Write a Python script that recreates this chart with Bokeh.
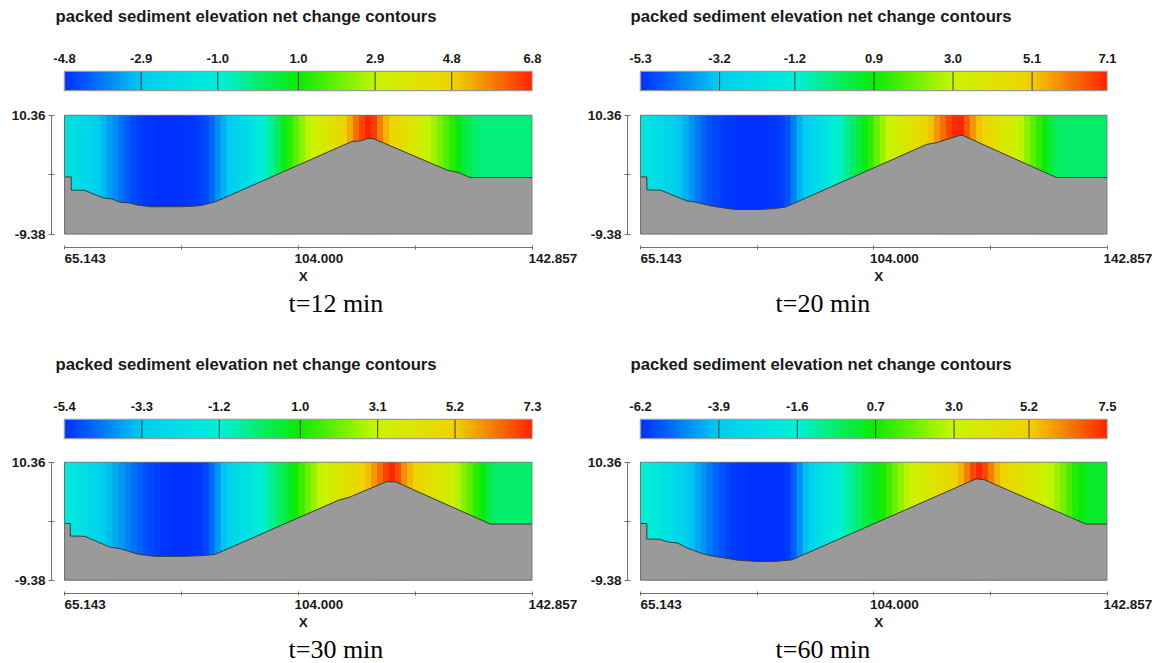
import numpy as np
from bokeh.plotting import figure
from bokeh.models import Range1d, FixedTicker, LinearColorMapper, PrintfTickFormatter, Title
from bokeh.layouts import column, row
from bokeh.embed import file_html
from bokeh.resources import INLINE

# ---------------- data ----------------
X_MIN, X_MAX = 65.143, 142.857
Y_MIN, Y_MAX = -9.38, 10.36

TITLE = "packed sediment elevation net change contours"
captions = ["t=12 min", "t=20 min", "t=30 min", "t=60 min"]

x_ticks = [65.143, 84.5715, 104.000, 123.4285, 142.857]
x_tick_labels = ["65.143", "", "104.000", "", "142.857"]
y_ticks = [-9.38, 0.49, 10.36]
y_tick_labels = ["-9.38", "", "10.36"]

cbar_ticks_12 = [-4.8, -2.9, -1.0, 1.0, 2.9, 4.8, 6.8]
cbar_ticks_20 = [-5.3, -3.2, -1.2, 0.9, 3.0, 5.1, 7.1]
cbar_ticks_30 = [-5.4, -3.3, -1.2, 1.0, 3.1, 5.2, 7.3]
cbar_ticks_60 = [-6.2, -3.9, -1.6, 0.7, 3.0, 5.2, 7.5]

# net change read along x (78 equal columns spanning 65.143 .. 142.857)
change_12 = [-1.7, -1.9, -2.1, -2.3, -2.5, -2.8, -3.1, -3.4, -3.7, -4.0,
             -4.25, -4.45, -4.6, -4.7, -4.75, -4.8, -4.8, -4.8, -4.8, -4.8,
             -4.75, -4.7, -4.6, -4.45, -4.1, -3.6, -3.2, -2.85, -2.55, -2.3,
             -2.0, -1.6, -1.2, -0.75, -0.3, 0.2, 0.75, 1.3, 1.8, 2.3,
             2.8, 3.1, 3.4, 3.7, 4.0, 4.35, 4.75, 5.3, 5.9, 6.4,
             6.8, 6.5, 5.8, 5.2, 4.8, 4.5, 4.2, 3.9, 3.6, 3.3,
             2.9, 2.5, 2.1, 1.7, 1.3, 0.9, 0.5, 0.2, 0.0, -0.1,
             -0.1, -0.1, -0.1, -0.1, -0.1, -0.1, -0.1, -0.1]
change_20 = [-1.85, -2.05, -2.25, -2.5, -2.75, -3.0, -3.3, -3.6, -3.95, -4.3,
             -4.6, -4.85, -5.0, -5.1, -5.2, -5.25, -5.3, -5.3, -5.3, -5.3,
             -5.3, -5.25, -5.2, -5.1, -4.8, -4.2, -3.6, -3.1, -2.75, -2.45,
             -2.1, -1.7, -1.3, -0.9, -0.5, -0.1, 0.3, 0.75, 1.3, 1.9,
             2.5, 3.0, 3.3, 3.6, 3.9, 4.2, 4.5, 4.8, 5.2, 5.7,
             6.2, 6.7, 7.0, 7.05, 6.4, 5.7, 5.2, 4.9, 4.55, 4.2,
             3.85, 3.5, 3.2, 2.8, 2.3, 1.8, 1.3, 0.8, 0.3, 0.0,
             -0.1, -0.1, -0.1, -0.1, -0.1, -0.1, -0.1, -0.1]
change_30 = [-1.6, -1.8, -2.0, -2.3, -2.6, -2.9, -3.2, -3.5, -3.75, -4.0,
             -4.25, -4.5, -4.75, -4.95, -5.1, -5.2, -5.3, -5.35, -5.4, -5.4,
             -5.4, -5.35, -5.3, -5.1, -4.6, -4.0, -3.4, -2.9, -2.6, -2.3,
             -2.0, -1.6, -1.25, -0.9, -0.5, -0.15, 0.25, 0.6, 1.0, 1.5,
             2.0, 2.5, 2.95, 3.3, 3.6, 3.9, 4.2, 4.5, 4.8, 5.05,
             5.4, 5.9, 6.4, 6.9, 7.25, 6.8, 6.0, 5.5, 5.1, 4.8,
             4.5, 4.2, 3.9, 3.6, 3.3, 2.8, 2.3, 1.8, 1.3, 0.85,
             0.35, 0.0, -0.1, -0.1, -0.1, -0.1, -0.1, -0.1]
change_60 = [-1.6, -1.85, -2.1, -2.4, -2.7, -3.0, -3.35, -3.7, -4.05, -4.4,
             -4.75, -5.1, -5.4, -5.65, -5.85, -6.0, -6.05, -6.1, -6.15, -6.2,
             -6.2, -6.2, -6.2, -6.15, -6.0, -5.5, -4.8, -4.1, -3.5, -3.0,
             -2.6, -2.25, -1.9, -1.55, -1.2, -0.85, -0.5, -0.15, 0.15, 0.45,
             0.8, 1.3, 1.8, 2.3, 2.75, 3.1, 3.4, 3.7, 4.0, 4.3,
             4.55, 4.8, 5.1, 5.6, 6.3, 7.0, 7.4, 7.0, 6.3, 5.6,
             5.1, 4.8, 4.5, 4.25, 4.0, 3.7, 3.4, 3.1, 2.8, 2.4,
             1.9, 1.4, 0.9, 0.5, 0.3, 0.2, 0.2, 0.2]
for _c in (change_12, change_20, change_30, change_60):
    assert len(_c) == 78, len(_c)

# packed bed profile (x, elevation)
bed_x_12 = [65.143, 66.26, 66.26, 68.4, 71.6, 73.0, 74.4, 75.8, 77.2, 79.5, 84.4, 86.6, 88.0,
            90.3, 112.8, 114.4, 115.6, 116.5, 128.8, 130.7, 132.5, 142.857]
bed_y_12 = [0.1, 0.1, -2.1, -2.1, -3.4, -3.55, -4.1, -4.2, -4.55, -4.85, -4.85, -4.75, -4.6,
            -4.0, 5.95, 6.1, 6.5, 6.45, 1.2, 0.8, 0.0, 0.0]
bed_x_20 = [65.143, 66.2, 66.2, 68.5, 72.9, 74.1, 77.1, 80.8, 85.1, 87.5, 89.3, 112.8, 114.3,
            118.3, 118.9, 134.4, 142.857]
bed_y_20 = [0.1, 0.1, -2.05, -2.1, -3.9, -4.05, -4.75, -5.3, -5.3, -5.15, -4.9, 5.5, 5.75,
            7.0, 6.95, 0.0, 0.0]
bed_x_30 = [65.143, 66.1, 66.1, 68.5, 72.8, 74.4, 75.6, 77.4, 80.2, 85.1, 87.6, 90.1, 110.7,
            112.5, 118.7, 120.2, 135.9, 142.857]
bed_y_30 = [0.1, 0.1, -2.0, -2.05, -3.9, -4.1, -4.5, -5.05, -5.4, -5.4, -5.3, -5.1, 4.0,
            4.5, 7.1, 7.05, 0.0, 0.0]
bed_x_60 = [65.143, 66.2, 66.2, 68.3, 69.8, 71.4, 72.9, 75.3, 77.1, 80.2, 81.4, 84.5, 87.5,
            90.3, 121.0, 122.3, 139.3, 142.857]
bed_y_60 = [0.1, 0.1, -2.5, -2.55, -3.0, -3.2, -4.0, -4.9, -5.35, -5.85, -6.05, -6.25, -6.25,
            -6.0, 7.55, 7.45, 0.0, 0.0]

# ---------------- style ----------------
SANS = "Liberation Sans"
SERIF = "Liberation Serif"
TXT = "#1a1a1a"
NBSP = "\u00a0"

ctrl = [(0, 48, 255), (0, 205, 240), (0, 240, 215), (10, 235, 0),
        (200, 245, 0), (240, 210, 0), (255, 35, 0)]
_t = np.linspace(0, 1, 256)
_p = np.linspace(0, 1, len(ctrl))
_r = np.interp(_t, _p, [c[0] for c in ctrl])
_g = np.interp(_t, _p, [c[1] for c in ctrl])
_b = np.interp(_t, _p, [c[2] for c in ctrl])
PALETTE = ["#%02x%02x%02x" % (int(round(a)), int(round(b)), int(round(c))) for a, b, c in zip(_r, _g, _b)]

W = 578
GAP = 13.0  # px between axis line and data box


def cbar_range(ticks, bl, br):
    bar_px = W - bl - br - GAP
    pad = GAP * (ticks[-1] - ticks[0]) / bar_px
    return Range1d(ticks[0] - pad, ticks[-1] + 0.002)


def make_cbar_labels(ticks, xr, bl, br, title_off):
    # title + colour-bar tick labels (axis below an empty frame)
    p = figure(width=W, height=67, x_range=xr, y_range=Range1d(0, 1),
               min_border_left=bl, min_border_right=br, min_border_top=28, min_border_bottom=20,
               toolbar_location=None, output_backend="svg", title=TITLE,
               x_axis_location="below", y_axis_location=None)
    p.grid.visible = False
    p.outline_line_color = None
    ax = p.xaxis[0]
    ax.ticker = FixedTicker(ticks=ticks)
    ax.formatter = PrintfTickFormatter(format="%.1f")
    ax.major_tick_line_color = None
    ax.minor_tick_line_color = None
    ax.axis_line_color = None
    ax.major_tick_out = 0
    ax.major_tick_in = 0
    ax.major_label_standoff = 6
    ax.major_label_text_font = SANS
    ax.major_label_text_font_style = "bold"
    ax.major_label_text_font_size = "13px"
    ax.major_label_text_color = TXT
    p.title.text_font = SANS
    p.title.text_font_style = "bold"
    p.title.text_font_size = "16.7px"
    p.title.text_color = TXT
    p.title.align = "left"
    p.title.offset = title_off
    p.title.standoff = 6
    return p


def make_cbar_bar(ticks, xr, bl, br, height, btop, bbot):
    p = figure(width=W, height=height, x_range=xr, y_range=Range1d(-0.04, 1.04),
               min_border_left=bl, min_border_right=br, min_border_top=btop, min_border_bottom=bbot,
               toolbar_location=None, output_backend="svg",
               x_axis_location=None, y_axis_location=None)
    mapper = LinearColorMapper(palette=PALETTE, low=ticks[0], high=ticks[-1])
    grad = np.array([np.linspace(ticks[0], ticks[-1], 256)])
    p.image(image=[grad], x=ticks[0], y=0, dw=ticks[-1] - ticks[0], dh=1, color_mapper=mapper)
    inner = ticks[1:-1]
    p.segment(x0=inner, y0=[0] * len(inner), x1=inner, y1=[1] * len(inner),
              line_color="#3a3a3a", line_width=1)
    p.quad(left=[ticks[0]], right=[ticks[-1]], bottom=[0], top=[1], fill_color=None,
           line_color="#9a9a9a", line_width=1.5)
    p.grid.visible = False
    p.outline_line_color = None
    return p


def make_main(bed_x, bed_y, change, ticks, caption, bl, br, height, bbot, cap_off):
    frame_w = W - bl - br
    pad_x = GAP * (X_MAX - X_MIN) / (frame_w - GAP)
    pad_y = 13.5 * (Y_MAX - Y_MIN) / 119.5
    pad_top = 0.6 * (Y_MAX - Y_MIN) / 119.5
    p = figure(width=W, height=height,
               x_range=Range1d(X_MIN - pad_x, X_MAX + 0.05),
               y_range=Range1d(Y_MIN - pad_y, Y_MAX + pad_top),
               min_border_left=bl, min_border_right=br, min_border_top=14, min_border_bottom=bbot,
               toolbar_location=None, output_backend="svg")
    p.grid.visible = False
    p.outline_line_color = None
    mapper = LinearColorMapper(palette=PALETTE, low=ticks[0], high=ticks[-1])
    p.image(image=[np.array([change])], x=X_MIN, y=Y_MIN, dw=X_MAX - X_MIN, dh=Y_MAX - Y_MIN,
            color_mapper=mapper)
    p.patch(list(bed_x) + [X_MAX, X_MIN], list(bed_y) + [Y_MIN, Y_MIN],
            fill_color="#9a9a9a", line_color=None)
    p.line(bed_x, bed_y, line_color="#3c3c3c", line_width=1)
    p.quad(left=[X_MIN], right=[X_MAX], bottom=[Y_MIN], top=[Y_MAX], fill_color=None,
           line_color="#6e6e6e", line_width=1)

    for ax in (p.xaxis[0], p.yaxis[0]):
        ax.axis_line_color = "#707070"
        ax.major_tick_line_color = "#707070"
        ax.minor_tick_line_color = None
        ax.major_label_text_font = SANS
        ax.major_label_text_font_style = "bold"
        ax.major_label_text_font_size = "13.5px"
        ax.major_label_text_color = TXT

    xa = p.xaxis[0]
    xa.bounds = (X_MIN, X_MAX)
    xa.major_tick_in = 2
    xa.major_tick_out = 2
    xa.ticker = FixedTicker(ticks=x_ticks)
    xa.major_label_overrides = {t: (NBSP * 11 + s if s else "") for t, s in zip(x_ticks, x_tick_labels)}
    xa.major_label_standoff = 1
    xa.axis_label = NBSP * 6 + "X"
    xa.axis_label_standoff = 0
    xa.axis_label_text_font = SANS
    xa.axis_label_text_font_style = "bold"
    xa.axis_label_text_font_size = "13.5px"
    xa.axis_label_text_color = TXT

    ya = p.yaxis[0]
    ya.bounds = (Y_MIN, Y_MAX)
    ya.major_tick_in = 3
    ya.major_tick_out = 3
    ya.ticker = FixedTicker(ticks=y_ticks)
    ya.major_label_overrides = {t: s for t, s in zip(y_ticks, y_tick_labels)}
    ya.major_label_standoff = 3
    ya.major_label_orientation = "horizontal"

    p.add_layout(Title(text=caption, align="left", offset=cap_off, text_font=SERIF,
                       text_font_size="26px", text_font_style="normal", text_color="#000000",
                       standoff=0), "below")
    return p


panels = [
    (bed_x_12, bed_y_12, change_12, cbar_ticks_12, captions[0], "L", "top"),
    (bed_x_20, bed_y_20, change_20, cbar_ticks_20, captions[1], "R", "top"),
    (bed_x_30, bed_y_30, change_30, cbar_ticks_30, captions[2], "L", "bot"),
    (bed_x_60, bed_y_60, change_60, cbar_ticks_60, captions[3], "R", "bot"),
]

cols = []
for bx, by, ch, tk, cap, side, rw in panels:
    if side == "L":
        bl, br, toff, co = 51, 46, 4, 237
    else:
        bl, br, toff, co = 49, 49, 3, 148
    xr = cbar_range(tk, bl, br)
    top = make_cbar_labels(tk, xr, bl, br, toff)
    if rw == "top":
        bar = make_cbar_bar(tk, xr, bl, br, 33, 3, 9)
        m = make_main(bx, by, ch, tk, cap, bl, br, 248, 101, co)
    else:
        bar = make_cbar_bar(tk, xr, bl, br, 32, 3, 8)
        m = make_main(bx, by, ch, tk, cap, bl, br, 216, 69, co)
    cols.append(column(top, bar, m, spacing=0))

layout = column(row(cols[0], cols[1], spacing=0), row(cols[2], cols[3], spacing=0), spacing=0)

open("out.html", "w").write(file_html(layout, INLINE))
